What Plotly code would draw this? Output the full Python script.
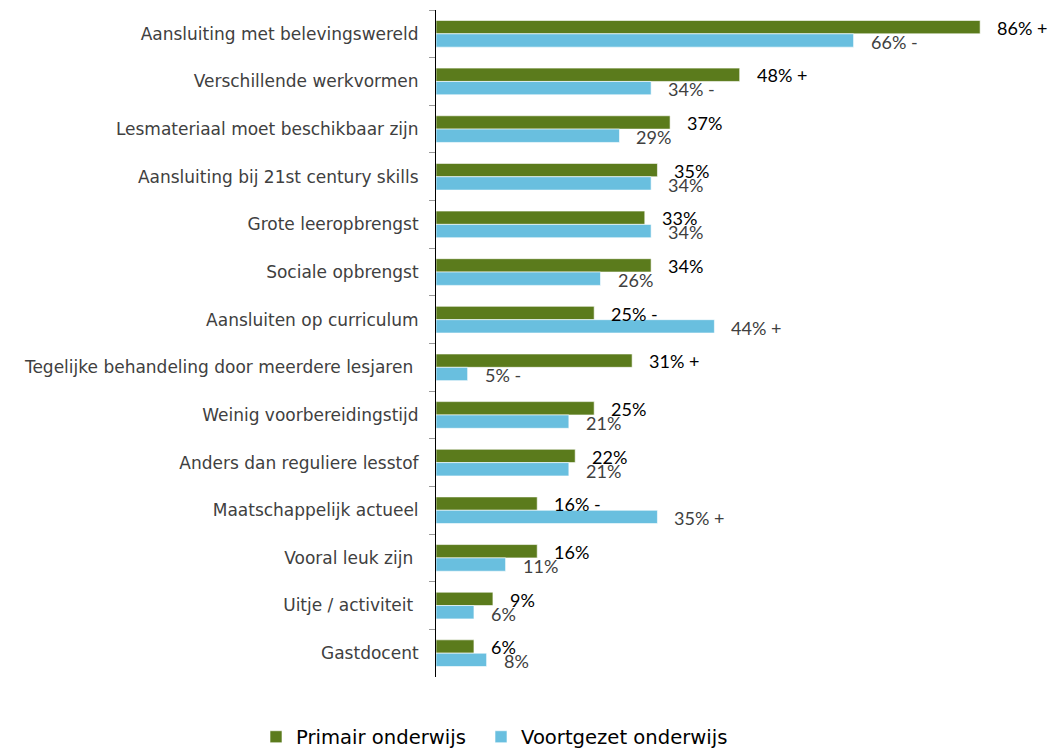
import plotly.graph_objects as go

categories = [
    "Aansluiting met belevingswereld",
    "Verschillende werkvormen",
    "Lesmateriaal moet beschikbaar zijn",
    "Aansluiting bij 21st century skills",
    "Grote leeropbrengst",
    "Sociale opbrengst",
    "Aansluiten op curriculum",
    "Tegelijke behandeling door meerdere lesjaren ",
    "Weinig voorbereidingstijd",
    "Anders dan reguliere lesstof",
    "Maatschappelijk actueel",
    "Vooral leuk zijn ",
    "Uitje / activiteit ",
    "Gastdocent",
]
primair = [86, 48, 37, 35, 33, 34, 25, 31, 25, 22, 16, 16, 9, 6]
voortgezet = [66, 34, 29, 34, 34, 26, 44, 5, 21, 21, 35, 11, 6, 8]
# significantie-markering achter het percentage
sig_primair = ["+", "+", "", "", "", "", "-", "+", "", "", "-", "", "", ""]
sig_voortgezet = ["-", "-", "", "", "", "", "+", "-", "", "", "+", "", "", ""]

GREEN = "#5b7b1c"
BLUE = "#69bfdf"
LABEL_FONT = "Lato"

fig = go.Figure()
fig.add_trace(go.Bar(
    y=categories, x=primair, orientation="h", name="Primair onderwijs",
    marker=dict(color=GREEN, line=dict(color="rgba(255,255,255,0.6)", width=1)),
    legend="legend", showlegend=True,
))
fig.add_trace(go.Bar(
    y=categories, x=voortgezet, orientation="h", name="Voortgezet onderwijs",
    marker=dict(color=BLUE, line=dict(color="rgba(255,255,255,0.6)", width=1)),
    legend="legend2", showlegend=True,
))

# datalabels rechts van de balken, zoals in Excel
annotations = []
for cat, p, sp, v, sv in zip(categories, primair, sig_primair, voortgezet, sig_voortgezet):
    annotations.append(dict(
        x=p, y=cat, xref="x", yref="y", text=f"{p}% {sp}".strip(),
        showarrow=False, xanchor="left", yanchor="middle", xshift=15, yshift=6,
        font=dict(family=LABEL_FONT, size=18, color="#000000"),
    ))
    annotations.append(dict(
        x=v, y=cat, xref="x", yref="y", text=f"{v}% {sv}".strip(),
        showarrow=False, xanchor="left", yanchor="middle", xshift=15, yshift=-8,
        font=dict(family=LABEL_FONT, size=18, color="#404040"),
    ))

legend_style = dict(
    orientation="h", xref="container", yref="container", visible=True,
    xanchor="left", y=(750 - 737) / 750, yanchor="middle",
    font=dict(family="DejaVu Sans", size=19.6, color="#000000"),
)

fig.update_layout(
    width=1051, height=750,
    margin=dict(l=436, r=0, t=10, b=73),
    plot_bgcolor="white", paper_bgcolor="white",
    barmode="group", bargap=0.44, bargroupgap=0,
    annotations=annotations,
    showlegend=True,
    legend=dict(x=256 / 1051, **legend_style),
    legend2=dict(x=481 / 1051, **legend_style),
)
fig.update_xaxes(range=[0, 97.2], visible=False, showgrid=False)
fig.update_yaxes(
    autorange="reversed", showgrid=False,
    showline=True, linecolor="#000000", linewidth=1,
    ticks="outside", tickson="boundaries", ticklen=6, tickcolor="#999999",
    ticklabelstandoff=13,
    tickfont=dict(family="DejaVu Sans", size=17, color="#404040"),
)

# geen standaard body-marge, zodat de figuur op (0,0) begint
fig.write_html("out.html", config={"displayModeBar": False},
               post_script="document.body.style.margin='0';")
